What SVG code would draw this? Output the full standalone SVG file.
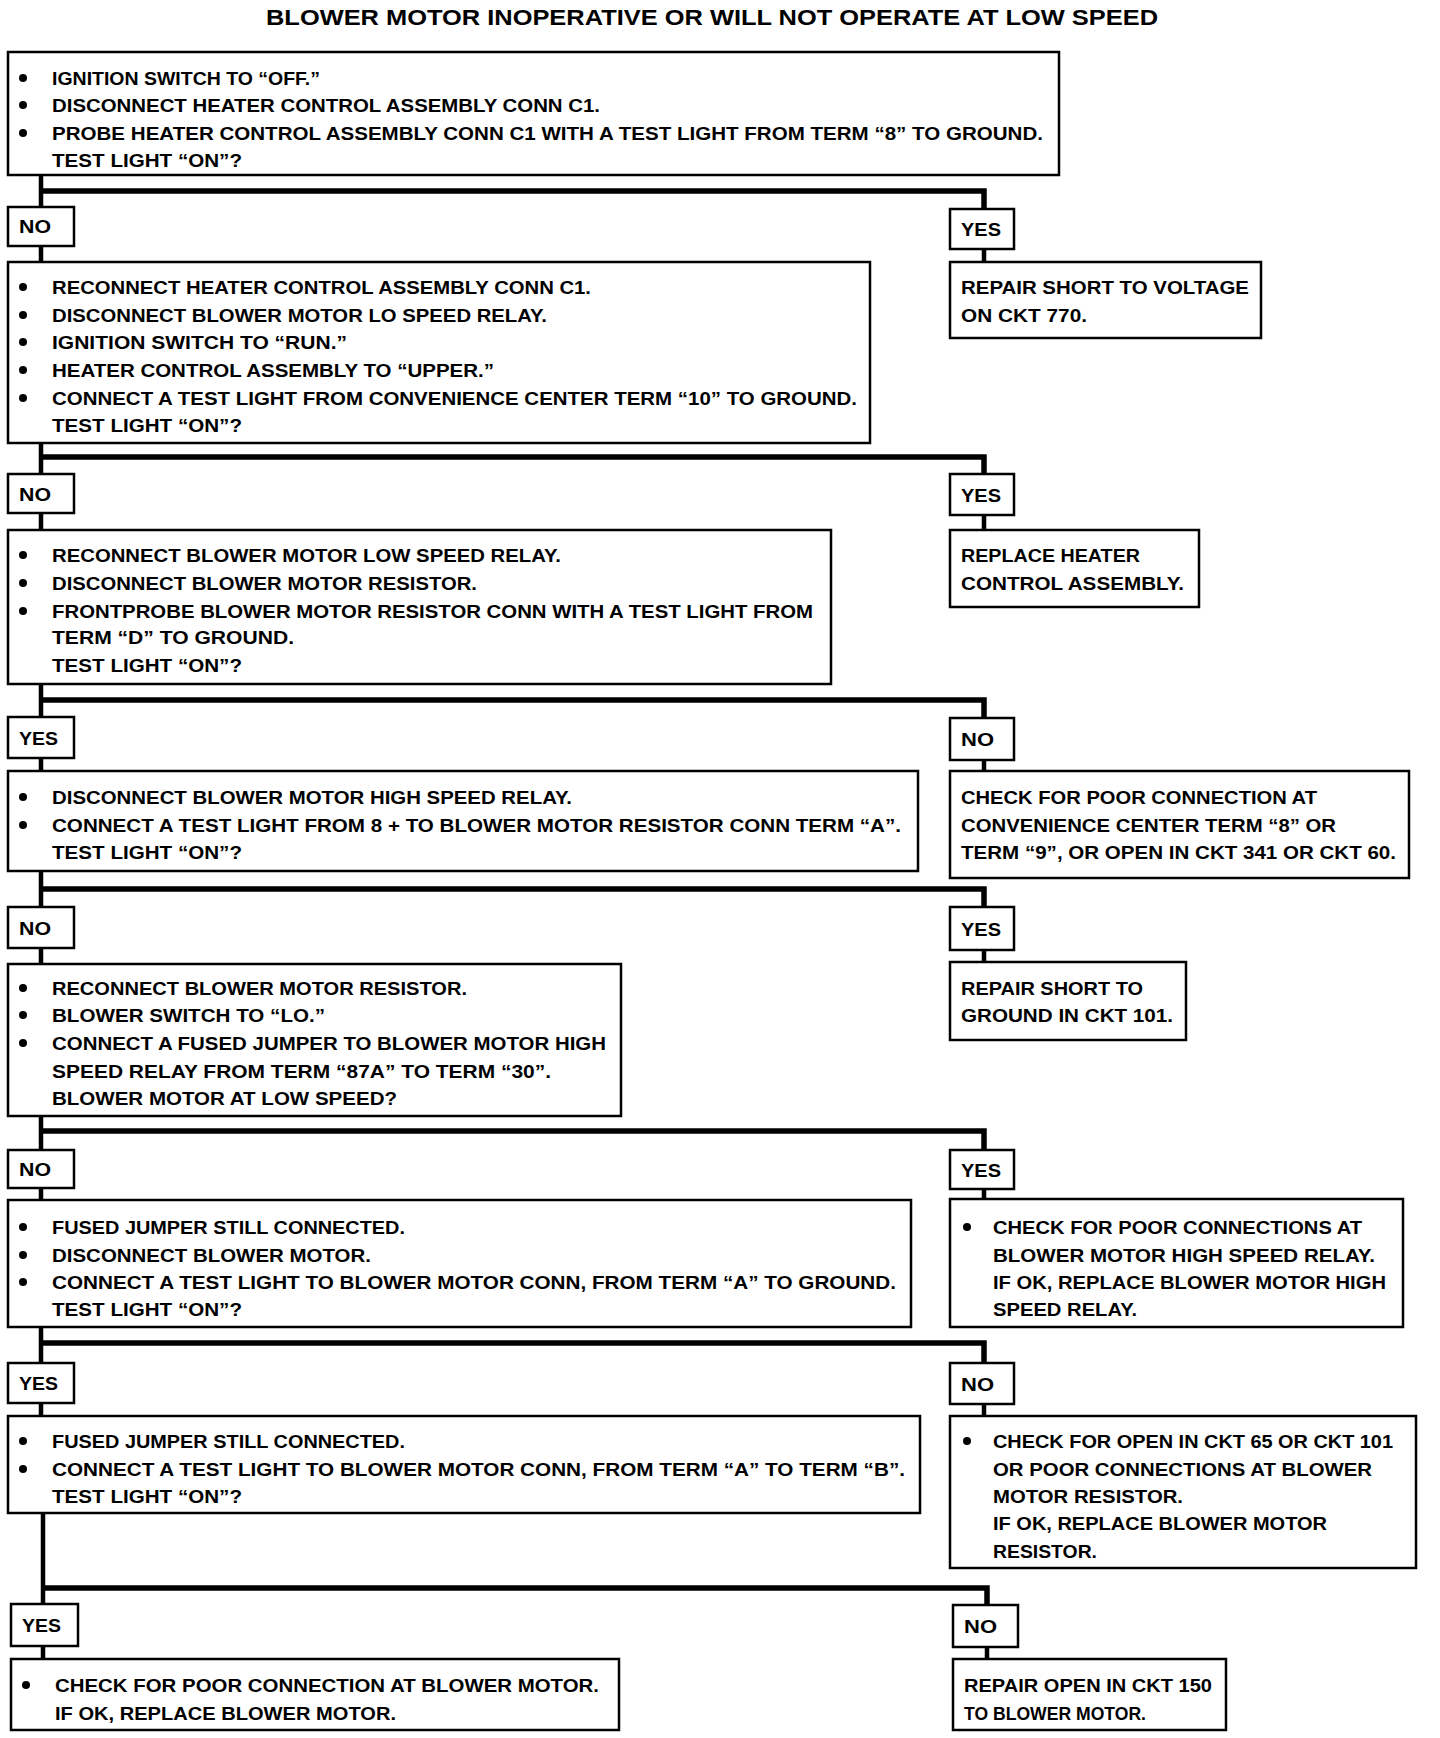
<svg xmlns="http://www.w3.org/2000/svg" width="1440" height="1738" viewBox="0 0 1440 1738">
<style>
rect.b{fill:#fff;stroke:#000;stroke-width:2.5}
text{font-family:"Liberation Sans",Arial,sans-serif;font-weight:bold;font-size:18.5px;fill:#000}
text.t{font-size:22px}
.c{fill:none;stroke:#000;stroke-width:4.5;stroke-linejoin:miter}
.bar{fill:none;stroke:#000;stroke-width:5.5;stroke-linejoin:miter}
circle.d{fill:#000}
</style>
<rect x="0" y="0" width="1440" height="1738" fill="#fff"/>
<text class="t" x="266" y="25" textLength="892" lengthAdjust="spacingAndGlyphs">BLOWER MOTOR INOPERATIVE OR WILL NOT OPERATE AT LOW SPEED</text>

<g id="connectors">
<path class="c" d="M41,175 V207 M41,246 V262 M984,249 V262"/>
<path class="bar" d="M41,191 H984 V209"/>
<path class="c" d="M41,443 V474 M41,513 V530 M984,515 V530"/>
<path class="bar" d="M41,457 H984 V474"/>
<path class="c" d="M41,684 V717 M41,758 V771 M984,760 V771"/>
<path class="bar" d="M41,700 H984 V718"/>
<path class="c" d="M41,871 V907 M41,948 V964 M984,950 V962"/>
<path class="bar" d="M41,889 H984 V907"/>
<path class="c" d="M41,1116 V1150 M41,1188 V1200 M984,1189 V1199"/>
<path class="bar" d="M41,1131 H984 V1150"/>
<path class="c" d="M41,1327 V1363 M41,1403 V1416 M984,1404 V1416"/>
<path class="bar" d="M41,1343 H984 V1363"/>
<path class="c" d="M43,1513 V1604 M43,1646 V1659 M987,1647 V1659"/>
<path class="bar" d="M43,1588 H987 V1605"/>
</g>

<g id="q1">
<rect class="b" x="8" y="52" width="1051" height="123"/>
<circle class="d" cx="23" cy="78" r="4"/><circle class="d" cx="23" cy="105" r="4"/><circle class="d" cx="23" cy="133" r="4"/>
<text x="52" y="85" textLength="268" lengthAdjust="spacingAndGlyphs">IGNITION SWITCH TO “OFF.”</text>
<text x="52" y="112" textLength="548" lengthAdjust="spacingAndGlyphs">DISCONNECT HEATER CONTROL ASSEMBLY CONN C1.</text>
<text x="52" y="140" textLength="991" lengthAdjust="spacingAndGlyphs">PROBE HEATER CONTROL ASSEMBLY CONN C1 WITH A TEST LIGHT FROM TERM “8” TO GROUND.</text>
<text x="52" y="167" textLength="190" lengthAdjust="spacingAndGlyphs">TEST LIGHT “ON”?</text>
</g>

<g id="no1"><rect class="b" x="8" y="207" width="66" height="39"/><text x="19" y="233" textLength="32" lengthAdjust="spacingAndGlyphs">NO</text></g>
<g id="yes1"><rect class="b" x="950" y="209" width="64" height="40"/><text x="961" y="236" textLength="40" lengthAdjust="spacingAndGlyphs">YES</text></g>

<g id="q2">
<rect class="b" x="8" y="262" width="862" height="181"/>
<circle class="d" cx="23" cy="287" r="4"/><circle class="d" cx="23" cy="315" r="4"/><circle class="d" cx="23" cy="342" r="4"/><circle class="d" cx="23" cy="370" r="4"/><circle class="d" cx="23" cy="398" r="4"/>
<text x="52" y="294" textLength="539" lengthAdjust="spacingAndGlyphs">RECONNECT HEATER CONTROL ASSEMBLY CONN C1.</text>
<text x="52" y="322" textLength="495" lengthAdjust="spacingAndGlyphs">DISCONNECT BLOWER MOTOR LO SPEED RELAY.</text>
<text x="52" y="349" textLength="295" lengthAdjust="spacingAndGlyphs">IGNITION SWITCH TO “RUN.”</text>
<text x="52" y="377" textLength="442" lengthAdjust="spacingAndGlyphs">HEATER CONTROL ASSEMBLY TO “UPPER.”</text>
<text x="52" y="405" textLength="805" lengthAdjust="spacingAndGlyphs">CONNECT A TEST LIGHT FROM CONVENIENCE CENTER TERM “10” TO GROUND.</text>
<text x="52" y="432" textLength="190" lengthAdjust="spacingAndGlyphs">TEST LIGHT “ON”?</text>
</g>

<g id="r1">
<rect class="b" x="950" y="262" width="311" height="76"/>
<text x="961" y="294" textLength="288" lengthAdjust="spacingAndGlyphs">REPAIR SHORT TO VOLTAGE</text>
<text x="961" y="322" textLength="126" lengthAdjust="spacingAndGlyphs">ON CKT 770.</text>
</g>

<g id="no2"><rect class="b" x="8" y="474" width="66" height="39"/><text x="19" y="501" textLength="32" lengthAdjust="spacingAndGlyphs">NO</text></g>
<g id="yes2"><rect class="b" x="950" y="474" width="64" height="41"/><text x="961" y="502" textLength="40" lengthAdjust="spacingAndGlyphs">YES</text></g>

<g id="q3">
<rect class="b" x="8" y="530" width="823" height="154"/>
<circle class="d" cx="23" cy="555" r="4"/><circle class="d" cx="23" cy="583" r="4"/><circle class="d" cx="23" cy="611" r="4"/>
<text x="52" y="562" textLength="509" lengthAdjust="spacingAndGlyphs">RECONNECT BLOWER MOTOR LOW SPEED RELAY.</text>
<text x="52" y="590" textLength="425" lengthAdjust="spacingAndGlyphs">DISCONNECT BLOWER MOTOR RESISTOR.</text>
<text x="52" y="618" textLength="761" lengthAdjust="spacingAndGlyphs">FRONTPROBE BLOWER MOTOR RESISTOR CONN WITH A TEST LIGHT FROM</text>
<text x="52" y="644" textLength="242" lengthAdjust="spacingAndGlyphs">TERM “D” TO GROUND.</text>
<text x="52" y="672" textLength="190" lengthAdjust="spacingAndGlyphs">TEST LIGHT “ON”?</text>
</g>

<g id="r2">
<rect class="b" x="950" y="530" width="249" height="77"/>
<text x="961" y="562" textLength="179" lengthAdjust="spacingAndGlyphs">REPLACE HEATER</text>
<text x="961" y="590" textLength="223" lengthAdjust="spacingAndGlyphs">CONTROL ASSEMBLY.</text>
</g>

<g id="yes3"><rect class="b" x="8" y="717" width="66" height="41"/><text x="19" y="745" textLength="39" lengthAdjust="spacingAndGlyphs">YES</text></g>
<g id="no3"><rect class="b" x="950" y="718" width="64" height="42"/><text x="961" y="746" textLength="33" lengthAdjust="spacingAndGlyphs">NO</text></g>

<g id="q4">
<rect class="b" x="8" y="771" width="910" height="100"/>
<circle class="d" cx="23" cy="797" r="4"/><circle class="d" cx="23" cy="825" r="4"/>
<text x="52" y="804" textLength="520" lengthAdjust="spacingAndGlyphs">DISCONNECT BLOWER MOTOR HIGH SPEED RELAY.</text>
<text x="52" y="832" textLength="849" lengthAdjust="spacingAndGlyphs">CONNECT A TEST LIGHT FROM 8 + TO BLOWER MOTOR RESISTOR CONN TERM “A”.</text>
<text x="52" y="859" textLength="190" lengthAdjust="spacingAndGlyphs">TEST LIGHT “ON”?</text>
</g>

<g id="r3">
<rect class="b" x="950" y="771" width="459" height="107"/>
<text x="961" y="804" textLength="356" lengthAdjust="spacingAndGlyphs">CHECK FOR POOR CONNECTION AT</text>
<text x="961" y="832" textLength="375" lengthAdjust="spacingAndGlyphs">CONVENIENCE CENTER TERM “8” OR</text>
<text x="961" y="859" textLength="435" lengthAdjust="spacingAndGlyphs">TERM “9”, OR OPEN IN CKT 341 OR CKT 60.</text>
</g>

<g id="no4"><rect class="b" x="8" y="907" width="66" height="41"/><text x="19" y="935" textLength="32" lengthAdjust="spacingAndGlyphs">NO</text></g>
<g id="yes4"><rect class="b" x="950" y="907" width="64" height="43"/><text x="961" y="936" textLength="40" lengthAdjust="spacingAndGlyphs">YES</text></g>

<g id="q5">
<rect class="b" x="8" y="964" width="613" height="152"/>
<circle class="d" cx="23" cy="988" r="4"/><circle class="d" cx="23" cy="1015" r="4"/><circle class="d" cx="23" cy="1043" r="4"/>
<text x="52" y="995" textLength="415" lengthAdjust="spacingAndGlyphs">RECONNECT BLOWER MOTOR RESISTOR.</text>
<text x="52" y="1022" textLength="273" lengthAdjust="spacingAndGlyphs">BLOWER SWITCH TO “LO.”</text>
<text x="52" y="1050" textLength="554" lengthAdjust="spacingAndGlyphs">CONNECT A FUSED JUMPER TO BLOWER MOTOR HIGH</text>
<text x="52" y="1078" textLength="499" lengthAdjust="spacingAndGlyphs">SPEED RELAY FROM TERM “87A” TO TERM “30”.</text>
<text x="52" y="1105" textLength="345" lengthAdjust="spacingAndGlyphs">BLOWER MOTOR AT LOW SPEED?</text>
</g>

<g id="r4">
<rect class="b" x="950" y="962" width="236" height="78"/>
<text x="961" y="995" textLength="182" lengthAdjust="spacingAndGlyphs">REPAIR SHORT TO</text>
<text x="961" y="1022" textLength="212" lengthAdjust="spacingAndGlyphs">GROUND IN CKT 101.</text>
</g>

<g id="no5"><rect class="b" x="8" y="1150" width="66" height="38"/><text x="19" y="1176" textLength="32" lengthAdjust="spacingAndGlyphs">NO</text></g>
<g id="yes5"><rect class="b" x="950" y="1150" width="64" height="39"/><text x="961" y="1177" textLength="40" lengthAdjust="spacingAndGlyphs">YES</text></g>

<g id="q6">
<rect class="b" x="8" y="1200" width="903" height="127"/>
<circle class="d" cx="23" cy="1227" r="4"/><circle class="d" cx="23" cy="1255" r="4"/><circle class="d" cx="23" cy="1282" r="4"/>
<text x="52" y="1234" textLength="353" lengthAdjust="spacingAndGlyphs">FUSED JUMPER STILL CONNECTED.</text>
<text x="52" y="1262" textLength="319" lengthAdjust="spacingAndGlyphs">DISCONNECT BLOWER MOTOR.</text>
<text x="52" y="1289" textLength="844" lengthAdjust="spacingAndGlyphs">CONNECT A TEST LIGHT TO BLOWER MOTOR CONN, FROM TERM “A” TO GROUND.</text>
<text x="52" y="1316" textLength="190" lengthAdjust="spacingAndGlyphs">TEST LIGHT “ON”?</text>
</g>

<g id="r5">
<rect class="b" x="950" y="1199" width="453" height="128"/>
<circle class="d" cx="967" cy="1227" r="4"/>
<text x="993" y="1234" textLength="369" lengthAdjust="spacingAndGlyphs">CHECK FOR POOR CONNECTIONS AT</text>
<text x="993" y="1262" textLength="382" lengthAdjust="spacingAndGlyphs">BLOWER MOTOR HIGH SPEED RELAY.</text>
<text x="993" y="1289" textLength="393" lengthAdjust="spacingAndGlyphs">IF OK, REPLACE BLOWER MOTOR HIGH</text>
<text x="993" y="1316" textLength="144" lengthAdjust="spacingAndGlyphs">SPEED RELAY.</text>
</g>

<g id="yes6"><rect class="b" x="8" y="1363" width="66" height="40"/><text x="19" y="1390" textLength="39" lengthAdjust="spacingAndGlyphs">YES</text></g>
<g id="no6"><rect class="b" x="950" y="1363" width="64" height="41"/><text x="961" y="1391" textLength="33" lengthAdjust="spacingAndGlyphs">NO</text></g>

<g id="q7">
<rect class="b" x="8" y="1416" width="912" height="97"/>
<circle class="d" cx="23" cy="1441" r="4"/><circle class="d" cx="23" cy="1469" r="4"/>
<text x="52" y="1448" textLength="353" lengthAdjust="spacingAndGlyphs">FUSED JUMPER STILL CONNECTED.</text>
<text x="52" y="1476" textLength="853" lengthAdjust="spacingAndGlyphs">CONNECT A TEST LIGHT TO BLOWER MOTOR CONN, FROM TERM “A” TO TERM “B”.</text>
<text x="52" y="1503" textLength="190" lengthAdjust="spacingAndGlyphs">TEST LIGHT “ON”?</text>
</g>

<g id="r6">
<rect class="b" x="950" y="1416" width="466" height="152"/>
<circle class="d" cx="967" cy="1441" r="4"/>
<text x="993" y="1448" textLength="400" lengthAdjust="spacingAndGlyphs">CHECK FOR OPEN IN CKT 65 OR CKT 101</text>
<text x="993" y="1476" textLength="379" lengthAdjust="spacingAndGlyphs">OR POOR CONNECTIONS AT BLOWER</text>
<text x="993" y="1503" textLength="190" lengthAdjust="spacingAndGlyphs">MOTOR RESISTOR.</text>
<text x="993" y="1530" textLength="334" lengthAdjust="spacingAndGlyphs">IF OK, REPLACE BLOWER MOTOR</text>
<text x="993" y="1558" textLength="104" lengthAdjust="spacingAndGlyphs">RESISTOR.</text>
</g>

<g id="yes7"><rect class="b" x="11" y="1604" width="67" height="42"/><text x="22" y="1632" textLength="39" lengthAdjust="spacingAndGlyphs">YES</text></g>
<g id="no7"><rect class="b" x="953" y="1605" width="65" height="42"/><text x="964" y="1633" textLength="33" lengthAdjust="spacingAndGlyphs">NO</text></g>

<g id="r7">
<rect class="b" x="11" y="1659" width="608" height="71"/>
<circle class="d" cx="26" cy="1685" r="4"/>
<text x="55" y="1692" textLength="544" lengthAdjust="spacingAndGlyphs">CHECK FOR POOR CONNECTION AT BLOWER MOTOR.</text>
<text x="55" y="1720" textLength="341" lengthAdjust="spacingAndGlyphs">IF OK, REPLACE BLOWER MOTOR.</text>
</g>

<g id="r8">
<rect class="b" x="953" y="1659" width="273" height="71"/>
<text x="964" y="1692" textLength="248" lengthAdjust="spacingAndGlyphs">REPAIR OPEN IN CKT 150</text>
<text x="964" y="1720" textLength="182" lengthAdjust="spacingAndGlyphs">TO BLOWER MOTOR.</text>
</g>
</svg>
